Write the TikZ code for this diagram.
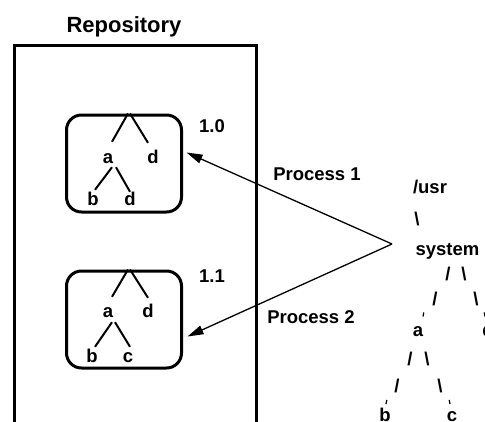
\documentclass[tikz,border=0pt]{standalone}
\usepackage{fontspec}
\setmainfont{Liberation Sans}
\usetikzlibrary{arrows.meta}

\begin{document}
\begin{tikzpicture}[x=1pt,y=-1pt]
    \tikzstyle{lbl} = [font=\bfseries\fontsize{18.5}{20}\selectfont, inner sep=0pt, anchor=base]
    \tikzstyle{leaf} = [lbl, text height=13pt, text depth=0pt]
    \tikzstyle{revbox} = [rectangle, draw, line width=3pt, rounded corners=15pt, minimum width=115pt, minimum height=97pt]
    \tikzstyle{branch} = [line width=2pt]
    \tikzstyle{flow} = [line width=1.3pt, -{Triangle[length=16pt,width=9pt]}]
    \tikzstyle{nub} = [line width=1.2pt]
    \useasboundingbox (0,0) rectangle (485,421);
    % repository
    \coordinate (wl) at (14,426); \coordinate (wr) at (256,426);
    \draw[line width=3pt] (wl) |- (256,45) -- (wr);
    \node[lbl, font=\bfseries\fontsize{22}{24}\selectfont] (repo) at (124,32) {Repository};
    % revision 1.0
    \node[revbox] (rev1) at (124,163.5) {};
    \node[lbl] (v10) at (212,132) {1.0};
    \node[leaf] (a1) at (108,163) {a}; \node[leaf] (d1) at (153,163) {d};
    \node[leaf] (b1) at (93,205) {b}; \node[leaf] (e1) at (130,205) {d};
    \draw[branch] ([xshift=4pt]rev1.north) -- ([shift={(4,-8)}]a1.north);
    \draw[branch] ([xshift=6pt]rev1.north) -- ([shift={(-5,-7)}]d1.north);
    \draw[branch] ([shift={(4,4)}]a1.south) -- ([shift={(2,-2)}]b1.north);
    \draw[branch] ([shift={(8,4)}]a1.south) -- (e1.north);
    % revision 1.1
    \node[revbox] (rev2) at (124,319.5) {};
    \node[lbl] (v11) at (212,282) {1.1};
    \node[leaf] (a2) at (108,317) {a}; \node[leaf] (d2) at (148,317) {d};
    \node[leaf] (b2) at (92,362) {b}; \node[leaf] (c2) at (128,362) {c};
    \draw[branch] ([xshift=4pt]rev2.north) -- ([shift={(4,-7)}]a2.north);
    \draw[branch] ([xshift=6pt]rev2.north) -- ([shift={(0,-6)}]d2.north);
    \draw[branch] ([shift={(4,5)}]a2.south) -- ([shift={(3,-2)}]b2.north);
    \draw[branch] ([shift={(7,5)}]a2.south) -- ([shift={(2,-2)}]c2.north);
    % working tree
    \node[lbl] (usr) at (430,193) {/usr};
    \node[lbl] (bsl) at (417,225) {\textbackslash};
    \node[lbl] (sys) at (447.5,255) {system};
    \node[lbl] (s1) at (448,280) {/}; \node[lbl] (s2) at (464,280) {\textbackslash};
    \node[lbl] (s3) at (435,305) {/}; \node[lbl] (s4) at (476,305) {\textbackslash};
    \node[lbl] (a3) at (418,336) {a}; \node[lbl] (d3) at (488,336) {d};
    \node[lbl] (s5) at (410,365) {/}; \node[lbl] (s6) at (427,365) {\textbackslash};
    \node[lbl] (s7) at (397,392) {/}; \node[lbl] (s8) at (440,392) {\textbackslash};
    \node[lbl] (b3) at (385,421) {b}; \node[lbl] (c3) at (452,421) {c};
    \draw[nub] (423.8,312.5) -- (423,316.5); \draw[nub] (484.2,312.5) -- (485,316.5);
    \draw[nub] (386.8,400) -- (386,404); \draw[nub] (449.2,400) -- (450,404);
    % processes
    \coordinate (fork) at (392,244);
    \draw[flow] (fork) -- ([shift={(3.5,-11)}]rev1.east);
    \draw[flow] (fork) -- ([shift={(4.5,17)}]rev2.east);
    \node[lbl] (p1) at (317,180) {Process 1};
    \node[lbl] (p2) at (311,323) {Process 2};
\end{tikzpicture}
\end{document}
